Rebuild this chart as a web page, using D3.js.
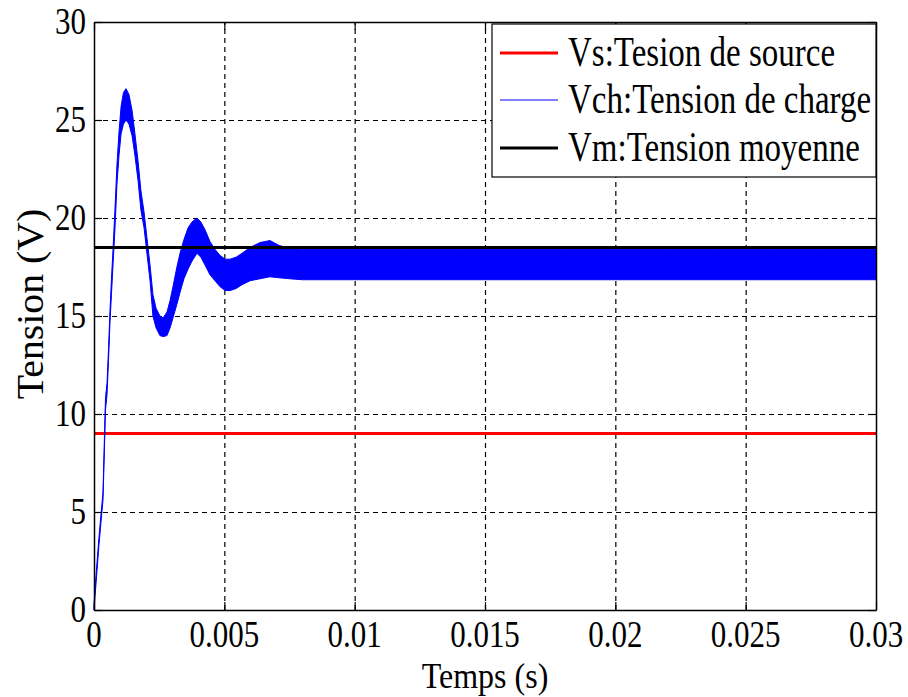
<!DOCTYPE html>
<html>
<head>
<meta charset="utf-8">
<script src="https://cdn.jsdelivr.net/npm/d3@7"></script>
<style>
  html, body { margin: 0; padding: 0; background: #fff; }
  svg { display: block; }
  text { font-family: "Liberation Serif", "Times New Roman", serif; fill: #000; }
</style>
</head>
<body>
<svg id="chart" width="908" height="697"></svg>
<script>
// Axis ticks and labels
const xTicks = [0, 0.005, 0.01, 0.015, 0.02, 0.025, 0.03];
const xTickLabels = ["0", "0.005", "0.01", "0.015", "0.02", "0.025", "0.03"];
const yTicks = [0, 5, 10, 15, 20, 25, 30];
const yTickLabels = ["0", "5", "10", "15", "20", "25", "30"];

// Source voltage and mean voltage (V)
const vsValue = 9;
const vmValue = 18.5;

// Load voltage: time (s) with upper and lower envelope of the switching ripple (V)
const vchTime = [0, 0.00004, 0.000115, 0.00019, 0.00027, 0.000345, 0.0004, 0.00044, 0.0005, 0.000556,
  0.000614, 0.00067, 0.00073, 0.000806, 0.00088, 0.00096, 0.00104, 0.00113, 0.00123, 0.00134,
  0.00146, 0.00157, 0.00169, 0.0018, 0.00192, 0.00203, 0.00215, 0.00226, 0.00238, 0.00253,
  0.00265, 0.0028, 0.00292, 0.00303, 0.00318, 0.0033, 0.00345, 0.00361, 0.00376, 0.00395,
  0.0041, 0.00426, 0.00445, 0.00464, 0.00483, 0.00503, 0.00522, 0.00545, 0.00568, 0.00599,
  0.00637, 0.00675, 0.0071, 0.0075, 0.008, 0.01, 0.012, 0.014, 0.016, 0.018,
  0.02, 0.022, 0.024, 0.026, 0.028, 0.03];
const vchHigh = [0.3, 1.1, 2.4, 3.7, 4.9, 6.0, 8.8, 10.8, 11.6, 13.3,
  15.3, 16.9, 18.4, 20.5, 22.7, 24.4, 25.7, 26.4, 26.6, 26.3,
  25.5, 24.3, 22.9, 21.4, 20.3, 19.0, 17.6, 16.1, 15.4, 15.0,
  14.9, 15.2, 15.8, 16.5, 17.5, 18.2, 18.9, 19.5, 19.8, 20.0,
  19.8, 19.4, 18.8, 18.4, 18.1, 17.9, 17.9, 18.0, 18.2, 18.5,
  18.75, 18.85, 18.6, 18.45, 18.4, 18.4, 18.4, 18.4, 18.4, 18.4,
  18.4, 18.4, 18.4, 18.4, 18.4, 18.4];
const vchLow = [0, 0.7, 2.0, 3.3, 4.5, 5.6, 8.2, 10.2, 11.0, 12.7,
  14.7, 16.1, 17.6, 19.5, 21.7, 23.2, 24.3, 24.8, 25.0, 24.8,
  24.2, 23.2, 21.9, 20.4, 19.5, 18.2, 16.8, 15.0, 14.4, 14.0,
  13.95, 14.0, 14.4, 14.9, 15.6, 16.2, 16.9, 17.4, 17.8, 18.2,
  18.0, 17.6, 17.1, 16.8, 16.5, 16.3, 16.3, 16.4, 16.6, 16.8,
  16.9, 17.0, 16.95, 16.9, 16.85, 16.85, 16.85, 16.85, 16.85, 16.85,
  16.85, 16.85, 16.85, 16.85, 16.85, 16.85];

// Legend entries
const legendLabels = ["Vs:Tesion de source", "Vch:Tension de charge", "Vm:Tension moyenne"];
const legendColors = ["#ff0000", "#0000ff", "#000000"];
const legendWidths = [3, 1.2, 3];

const svg = d3.select("#chart");
const plot = { left: 94, right: 876, top: 22, bottom: 610 };

const x = d3.scaleLinear().domain([0, 0.03]).range([plot.left, plot.right]);
const y = d3.scaleLinear().domain([0, 30]).range([plot.bottom, plot.top]);

// Text drawn with a taller-than-wide glyph shape, anchored on its baseline
function tallText(parent, px, baseline, str, size, anchor, stretch) {
  parent.append("g")
    .attr("transform", `translate(${px},${baseline}) scale(1,${stretch})`)
    .append("text")
    .attr("text-anchor", anchor)
    .attr("font-size", size)
    .text(str);
}

// Dashed grid
const grid = svg.append("g");
grid.append("g")
  .attr("transform", `translate(0,${plot.bottom})`)
  .call(d3.axisBottom(x).tickValues(xTicks.slice(1, -1)).tickSize(-(plot.bottom - plot.top)).tickFormat(""))
  .call(g => g.select(".domain").remove());
grid.append("g")
  .attr("transform", `translate(${plot.left},0)`)
  .call(d3.axisLeft(y).tickValues(yTicks.slice(1, -1)).tickSize(-(plot.right - plot.left)).tickFormat(""))
  .call(g => g.select(".domain").remove());
grid.selectAll("line").attr("stroke", "#000").attr("stroke-width", 1.2).attr("stroke-dasharray", "5,4");

// Series
svg.append("line")
  .attr("x1", x(0)).attr("x2", x(0.03))
  .attr("y1", y(vsValue)).attr("y2", y(vsValue))
  .attr("stroke", legendColors[0]).attr("stroke-width", 3);

const vchData = vchTime.map((t, i) => ({ t, hi: vchHigh[i], lo: vchLow[i] }));
svg.append("path")
  .datum(vchData)
  .attr("d", d3.area().x(d => x(d.t)).y0(d => y(d.lo)).y1(d => y(d.hi)))
  .attr("fill", legendColors[1])
  .attr("stroke", legendColors[1])
  .attr("stroke-width", 1);

svg.append("line")
  .attr("x1", x(0)).attr("x2", x(0.03))
  .attr("y1", y(vmValue)).attr("y2", y(vmValue))
  .attr("stroke", legendColors[2]).attr("stroke-width", 3);

// Axes box with inward ticks on all four sides
const tickLen = 8;
const axes = svg.append("g");
axes.append("g").attr("transform", `translate(0,${plot.bottom})`)
  .call(d3.axisBottom(x).tickValues(xTicks).tickSizeInner(-tickLen).tickSizeOuter(0).tickFormat(""));
axes.append("g").attr("transform", `translate(0,${plot.top})`)
  .call(d3.axisTop(x).tickValues(xTicks).tickSizeInner(-tickLen).tickSizeOuter(0).tickFormat(""));
axes.append("g").attr("transform", `translate(${plot.left},0)`)
  .call(d3.axisLeft(y).tickValues(yTicks).tickSizeInner(-tickLen).tickSizeOuter(0).tickFormat(""));
axes.append("g").attr("transform", `translate(${plot.right},0)`)
  .call(d3.axisRight(y).tickValues(yTicks).tickSizeInner(-tickLen).tickSizeOuter(0).tickFormat(""));
axes.selectAll("path.domain").attr("stroke", "#000").attr("stroke-width", 1.5);
axes.selectAll("line").attr("stroke", "#000").attr("stroke-width", 1.2);

// Tick labels
const labels = svg.append("g");
xTicks.forEach((v, i) => tallText(labels, x(v), 647, xTickLabels[i], 31, "middle", 1.22));
yTicks.forEach((v, i) => tallText(labels, plot.left - 8, y(v) + 12, yTickLabels[i], 31, "end", 1.25));

// Axis titles
tallText(svg, (plot.left + plot.right) / 2, 688, "Temps (s)", 32, "middle", 1.1);
svg.append("text")
  .attr("transform", `translate(43,304) rotate(-90) scale(1.17,1.1)`)
  .attr("text-anchor", "middle").attr("font-size", 34)
  .text("Tension (V)");

// Legend
const legend = svg.append("g");
legend.append("rect")
  .attr("x", 492).attr("y", 24).attr("width", 876 - 492).attr("height", 177 - 24)
  .attr("fill", "#fff").attr("stroke", "#000").attr("stroke-width", 1.2);
legendLabels.forEach((label, i) => {
  const cy = [53, 100, 148][i];
  legend.append("line")
    .attr("x1", 500).attr("x2", 558).attr("y1", cy).attr("y2", cy)
    .attr("stroke", legendColors[i]).attr("stroke-width", legendWidths[i]);
  tallText(legend, 568, cy + 13, label, 33, "start", 1.3);
});
</script>
</body>
</html>
